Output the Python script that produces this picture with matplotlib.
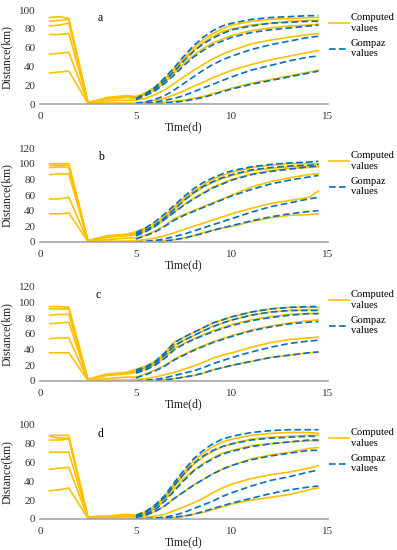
import matplotlib
matplotlib.use("Agg")
from matplotlib import pyplot as plt

plt.rcParams['font.family'] = ['Liberation Serif', 'DejaVu Serif']

# time axes
t_pre = [0.5, 1.0, 1.5, 2.5, 3.0, 3.5, 4.0, 4.5]
t_rise = [5, 5.5, 6, 6.5, 7, 7.5, 8, 8.5, 9, 9.5, 10, 11, 12, 13, 14, 14.5]
t_comp = t_pre + t_rise

panel_letters = ['a', 'b', 'c', 'd']
y_tops = [100, 120, 120, 100]
letter_pos = [(3.0, 91), (3.0, 108), (2.9, 110), (3.0, 90)]

# computed values (orange), 6 curves per panel
comp_a = [
    [92, 93, 91, 2, 4, 7, 8, 9, 8, 12, 18, 27, 38, 49, 60, 68, 75, 80, 84, 88, 90, 91, 92, 92],
    [88, 89, 90, 1, 3, 6, 7, 8, 7, 11, 17, 26, 36, 47, 57, 65, 72, 77, 80, 84, 86, 88, 89, 89],
    [83, 84, 86, 1, 3, 5, 6, 7, 6, 10, 15, 23, 33, 43, 52, 59, 65, 69, 73, 78, 81, 83, 84, 85],
    [74, 74, 75, 1, 2, 3, 4, 4, 4, 6, 10, 15, 22, 29, 36, 42, 48, 53, 57, 64, 68, 71, 74, 75],
    [53, 54, 55, 1, 1, 1, 1, 1, 1, 2, 4, 6, 10, 14, 19, 23, 28, 32, 36, 42, 47, 51, 55, 57],
    [33, 34, 35, 0.5, 0.5, 0.5, 0.5, 0.5, 0, 0.5, 1, 2, 3, 4, 6, 8, 11, 14, 17, 22, 26, 30, 34, 36],
]
comp_b = [
    [100, 100, 100, 2, 5, 8, 9, 10, 13, 18, 25, 34, 45, 56, 65, 73, 80, 85, 89, 95, 98, 100, 100, 100],
    [98, 98, 98, 1, 4, 7, 8, 9, 11, 16, 22, 31, 42, 53, 62, 70, 76, 81, 85, 91, 94, 96, 97, 98],
    [95, 96, 95, 1, 3, 6, 7, 8, 9, 14, 20, 29, 39, 48, 56, 63, 70, 75, 80, 87, 91, 94, 95, 96],
    [86, 87, 87, 1, 2, 3, 4, 5, 5, 9, 14, 21, 30, 35, 40, 45, 50, 55, 60, 70, 77, 82, 86, 87],
    [55, 55, 57, 1, 1, 1, 1, 1, 2, 3, 5, 8, 12, 16, 20, 24, 28, 32, 36, 43, 49, 53, 57, 65],
    [36, 36, 37, 0.5, 0.5, 0.5, 0.5, 0.5, 0, 0.5, 1, 2, 3, 5, 8, 12, 15, 18, 20, 26, 31, 34, 35, 36],
]
comp_c = [
    [95, 95, 94, 2, 6, 9, 10, 11, 15, 19, 25, 36, 50, 56, 62, 68, 74, 78, 82, 88, 92, 94, 94, 94],
    [92, 92, 92, 1, 5, 8, 9, 10, 13, 17, 23, 33, 46, 52, 58, 64, 70, 74, 78, 84, 88, 90, 91, 91],
    [84, 85, 85, 1, 4, 7, 8, 9, 11, 15, 21, 30, 42, 48, 54, 59, 64, 68, 72, 78, 82, 85, 86, 86],
    [73, 74, 75, 1, 2, 3, 4, 5, 5, 9, 14, 20, 28, 34, 40, 45, 50, 54, 58, 65, 70, 74, 77, 78],
    [54, 55, 55, 1, 1, 1, 1, 1, 2, 3, 5, 8, 11, 15, 19, 24, 29, 33, 36, 43, 49, 53, 55, 56],
    [36, 36, 36, 0.5, 0.5, 0.5, 0.5, 0.5, 0, 0.5, 1, 2, 3, 5, 7, 10, 14, 17, 20, 25, 30, 33, 36, 37],
]
comp_d = [
    [89, 89, 89, 2, 3, 3, 4, 5, 4, 8, 14, 24, 38, 50, 62, 70, 77, 82, 85, 89, 91, 92, 92, 91],
    [88, 86, 86, 1, 2, 3, 3, 4, 3, 7, 12, 22, 35, 47, 58, 66, 72, 77, 80, 85, 87, 88, 89, 89],
    [84, 84, 85, 1, 2, 2, 3, 4, 3, 6, 11, 20, 32, 43, 52, 59, 65, 70, 73, 78, 80, 82, 83, 83],
    [71, 71, 71, 1, 1, 2, 2, 3, 2, 4, 8, 14, 22, 29, 36, 42, 48, 53, 57, 64, 68, 71, 75, 76],
    [53, 54, 55, 1, 1, 1, 1, 1, 1, 2, 3, 5, 9, 13, 17, 22, 28, 33, 37, 43, 47, 50, 54, 57],
    [30, 31, 33, 0.5, 0.5, 0.5, 0.5, 0.5, 0, 0.5, 1, 1.5, 2, 3, 5, 7, 10, 13, 16, 20, 23, 26, 31, 33],
]

# Gompertz values (blue dashed), from day 5
gomp_a = [
    [6, 11, 18, 28, 39, 51, 62, 71, 78, 83, 86, 90, 92, 93, 94, 94],
    [5, 10, 16, 25, 35, 46, 56, 64, 70, 75, 79, 83, 86, 87, 88, 88],
    [5, 9, 14, 22, 31, 41, 50, 57, 63, 67, 71, 76, 79, 81, 83, 84],
    [1, 2, 5, 9, 15, 22, 29, 36, 42, 47, 51, 58, 63, 67, 71, 72],
    [0, 1, 2, 4, 6, 9, 13, 17, 21, 25, 29, 36, 41, 46, 50, 51],
    [0, 0, 0.5, 1, 2, 3, 5, 7, 10, 13, 16, 21, 25, 29, 33, 35],
]
gomp_b = [
    [12, 18, 26, 36, 47, 58, 68, 76, 82, 87, 91, 96, 99, 101, 102, 103],
    [10, 15, 22, 31, 42, 53, 63, 71, 77, 82, 86, 92, 95, 97, 98, 99],
    [8, 13, 20, 29, 38, 47, 55, 62, 69, 74, 79, 86, 90, 93, 96, 97],
    [4, 8, 13, 20, 28, 34, 39, 44, 49, 54, 59, 67, 74, 79, 83, 85],
    [0, 1, 2, 4, 7, 10, 14, 18, 22, 26, 30, 38, 45, 50, 55, 57],
    [0, 0, 0.5, 1, 3, 5, 8, 11, 15, 18, 21, 27, 32, 36, 39, 40],
]
gomp_c = [
    [14, 18, 25, 36, 49, 56, 62, 68, 74, 78, 82, 88, 92, 94, 95, 95],
    [12, 16, 23, 33, 45, 52, 58, 64, 69, 74, 78, 84, 88, 90, 90, 90],
    [10, 14, 20, 29, 40, 47, 53, 58, 63, 67, 71, 77, 81, 84, 86, 86],
    [4, 8, 13, 19, 27, 33, 39, 44, 49, 53, 57, 64, 69, 73, 75, 76],
    [0, 1, 2, 4, 7, 10, 13, 17, 22, 26, 30, 37, 43, 48, 51, 52],
    [0, 0, 0.5, 1, 3, 5, 7, 10, 14, 17, 20, 25, 30, 33, 36, 37],
]
gomp_d = [
    [4, 8, 15, 25, 39, 52, 64, 73, 80, 85, 88, 92, 94, 95, 95, 95],
    [3, 7, 13, 23, 36, 48, 59, 67, 73, 77, 80, 84, 86, 87, 88, 88],
    [2, 5, 10, 19, 30, 41, 51, 58, 64, 69, 72, 77, 80, 82, 84, 84],
    [2, 4, 8, 14, 22, 29, 36, 42, 48, 53, 57, 63, 67, 70, 73, 73],
    [0, 0.5, 1, 2, 4, 7, 11, 15, 19, 24, 28, 35, 41, 45, 50, 52],
    [0, 0, 0.5, 1, 2, 3, 5, 8, 11, 14, 17, 22, 27, 31, 34, 35],
]

computed = [comp_a, comp_b, comp_c, comp_d]
gompertz = [gomp_a, gomp_b, gomp_c, gomp_d]

orange = '#FFC000'
blue = '#0070C0'

fig = plt.figure(figsize=(3.97, 5.5), dpi=100)
bottoms = [0.8109, 0.56, 0.3073, 0.0564]

for i in range(4):
    ax = fig.add_axes([0.1008, bottoms[i], 0.7254, 0.1709])
    for k, ys in enumerate(computed[i]):
        ax.plot(t_comp, ys, color=orange, lw=1.2,
                label='Computed\nvalues' if k == 0 else None)
    for k, ys in enumerate(gompertz[i]):
        ax.plot(t_rise, ys, color=blue, lw=1.2, linestyle=(0, (4, 2)),
                label='Gompaz\nvalues' if k == 0 else None)

    ax.set_xlim(0, 15)
    ax.set_ylim(0, y_tops[i])
    ax.set_xticks([0, 5, 10, 15])
    ax.set_yticks(range(0, y_tops[i] + 1, 20))
    ax.tick_params(length=0, labelsize=8, colors='#333333')
    ax.tick_params(axis='x', pad=6)
    for s in ['left', 'top', 'right']:
        ax.spines[s].set_visible(False)
    ax.spines['bottom'].set_color('#A6A6A6')
    ax.spines['bottom'].set_linewidth(1.2)
    ax.set_xlabel('Time(d)', fontsize=8.5, labelpad=0, color='#222222')
    ax.set_ylabel('Distance(km)', fontsize=8.5, labelpad=4, color='#222222')
    lx, ly = letter_pos[i]
    ax.text(lx, ly, panel_letters[i], fontsize=8.5, ha='left', va='center')
    ax.legend(loc='upper left', bbox_to_anchor=(1.0, 0.97), frameon=False,
              fontsize=7.6, handlelength=1.9, handletextpad=0.2,
              labelspacing=0.6, borderaxespad=0.0, borderpad=0.05)

fig.savefig('out.png', dpi=100)
